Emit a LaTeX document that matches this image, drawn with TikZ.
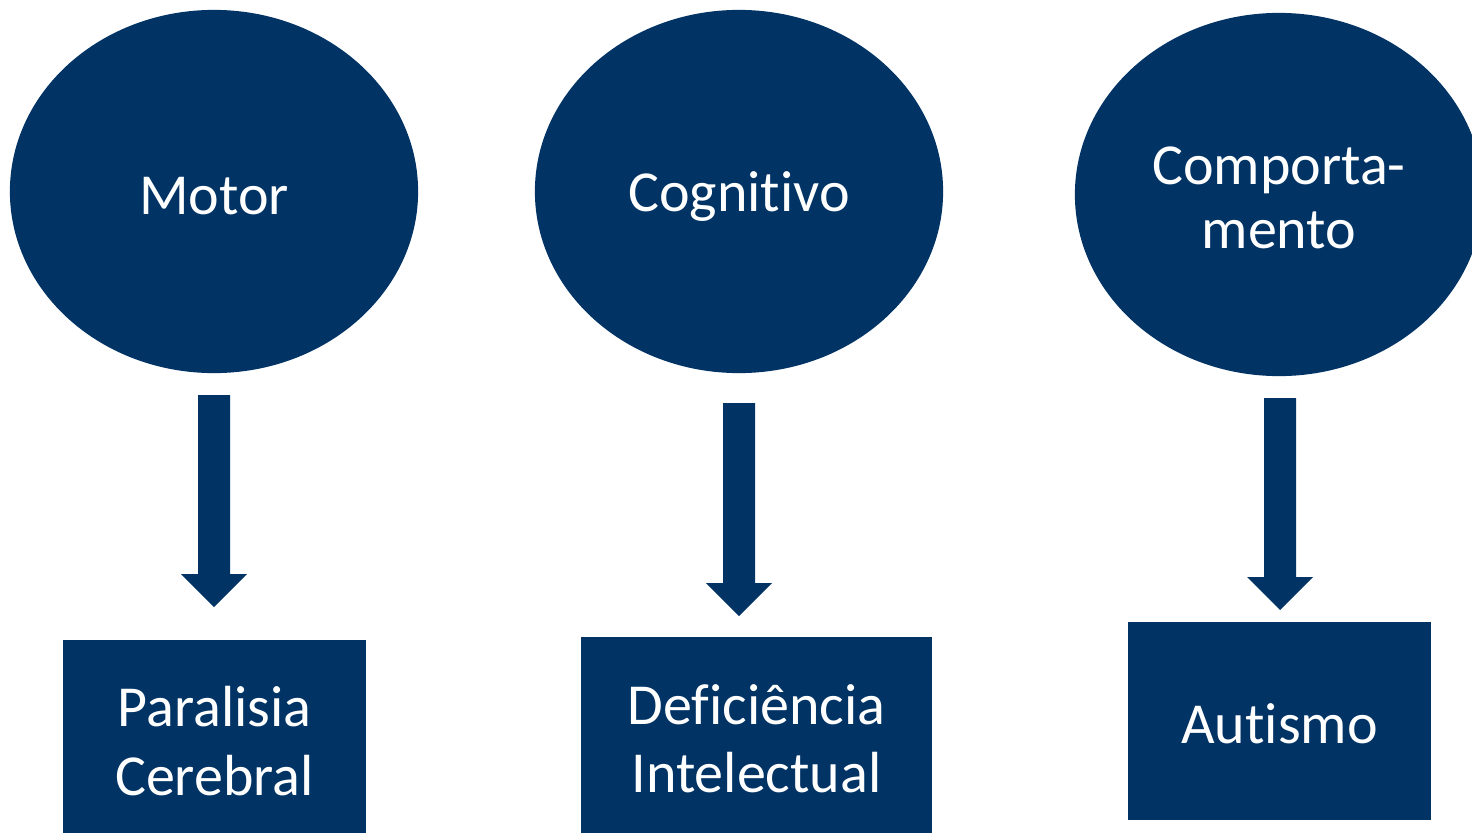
\documentclass[tikz,border=0pt]{standalone}
\usepackage{fontspec}
\setmainfont{Carlito}[Ligatures=NoCommon]
\usetikzlibrary{shapes.geometric,calc}
\definecolor{navy}{RGB}{1,51,101}
\newcommand{\lowerby}[2]{\raisebox{-#1}[\height][\depth]{#2}}
\tikzset{
  blob/.style={ellipse,fill=navy,text=white,inner sep=0pt,minimum width=4.08cm,minimum height=3.63cm,align=center,font=\fontsize{16.5}{18.2}\selectfont},
  boxnode/.style={rectangle,fill=navy,text=white,inner sep=0pt,align=center,font=\fontsize{16.5}{19.4}\selectfont},
  blockarrow/.style={fill=navy}
}
\newcommand{\blkarrow}[2]{%
  \fill[blockarrow] ($(#1)+(-16,0)$) -- ($(#2)+(-16,-33)$) -- ($(#2)+(-33,-33)$) -- (#2)
    -- ($(#2)+(33,-33)$) -- ($(#2)+(16,-33)$) -- ($(#1)+(16,0)$) -- cycle;}
\begin{document}
\begin{tikzpicture}[x=0.01cm,y=-0.01cm]
\useasboundingbox (0,0) rectangle (1472,833);
\clip (0,0) rectangle (1472,833);
\node[blob] (motor) at (214,191.5) {\lowerby{0.05cm}{Motor}};
\node[blob] (cog) at (739,191.5) {\lowerby{0.05cm}{Cognitivo}};
\node[blob] (comp) at (1279,194.5) {\lowerby{0.03cm}{Comporta-}\\\lowerby{0.03cm}{mento}};
\node[boxnode,minimum width=3.03cm,minimum height=2.02cm] (par) at (214.5,741) {Paralisia\\Cerebral};
\node[boxnode,minimum width=3.51cm,minimum height=2.03cm] (def) at (756.5,738.5) {Deficiência\\Intelectual};
\node[boxnode,minimum width=3.03cm,minimum height=1.98cm] (aut) at (1279.5,721) {\lowerby{0.03cm}{Autismo}};
\coordinate (a1s) at (214,395);  \coordinate (a1e) at (214,607);
\coordinate (a2s) at (739,403);  \coordinate (a2e) at (739,616);
\coordinate (a3s) at (1280,398); \coordinate (a3e) at (1280,610);
\blkarrow{a1s}{a1e}
\blkarrow{a2s}{a2e}
\blkarrow{a3s}{a3e}
\end{tikzpicture}
\end{document}
